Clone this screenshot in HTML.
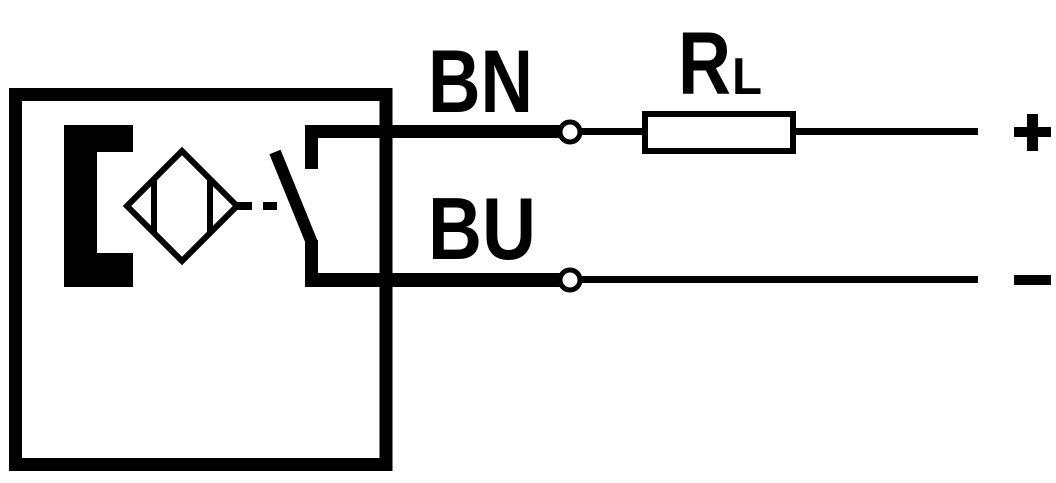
<!DOCTYPE html>
<html>
<head>
<meta charset="utf-8">
<style>
html,body{margin:0;padding:0;background:#fff;}
svg{display:block;}
text{font-family:"Liberation Sans",sans-serif;font-weight:bold;fill:#000;}
</style>
</head>
<body>
<svg width="1056" height="483" viewBox="0 0 1056 483" xmlns="http://www.w3.org/2000/svg">
  <rect x="0" y="0" width="1056" height="483" fill="#fff"/>
  <!-- outer box -->
  <rect x="15.5" y="94.5" width="370.5" height="370" fill="none" stroke="#000" stroke-width="13"/>
  <!-- bracket -->
  <polygon points="64,125 133,125 133,152 97,152 97,253 133,253 133,287 64,287" fill="#000"/>
  <!-- diamond -->
  <polygon points="127,206 182,151 237,206 182,261" fill="none" stroke="#000" stroke-width="6" stroke-linejoin="miter"/>
  <line x1="154" y1="178" x2="154" y2="234" stroke="#000" stroke-width="6"/>
  <line x1="210" y1="178" x2="210" y2="234" stroke="#000" stroke-width="6"/>
  <!-- dashes -->
  <rect x="237" y="202" width="15" height="8" fill="#000"/>
  <rect x="263" y="202" width="14" height="8" fill="#000"/>
  <!-- switch blade -->
  <line x1="275" y1="152" x2="312" y2="243" stroke="#000" stroke-width="12"/>
  <!-- upper contact -->
  <rect x="305" y="125" width="13" height="44" fill="#000"/>
  <rect x="305" y="125" width="260" height="13" fill="#000"/>
  <!-- lower contact -->
  <rect x="305" y="240" width="13" height="47" fill="#000"/>
  <rect x="305" y="273" width="260" height="14" fill="#000"/>
  <!-- thin wires -->
  <rect x="575" y="128" width="70" height="7" fill="#000"/>
  <rect x="793" y="128" width="185" height="7" fill="#000"/>
  <rect x="575" y="276" width="403" height="7" fill="#000"/>
  <!-- terminals -->
  <circle cx="570" cy="132" r="10" fill="#fff" stroke="#000" stroke-width="5"/>
  <circle cx="570" cy="280" r="10" fill="#fff" stroke="#000" stroke-width="5"/>
  <!-- resistor -->
  <rect x="645" y="114" width="148" height="37" fill="#fff" stroke="#000" stroke-width="6"/>
  <!-- plus / minus -->
  <rect x="1014" y="127" width="37" height="10" fill="#000"/>
  <rect x="1027" y="114" width="11" height="37" fill="#000"/>
  <rect x="1014" y="275" width="37" height="10" fill="#000"/>
  <!-- labels -->
  <text x="428" y="112" font-size="89" textLength="105" lengthAdjust="spacingAndGlyphs">BN</text>
  <text x="428" y="259" font-size="88" textLength="108" lengthAdjust="spacingAndGlyphs">BU</text>
  <text x="678" y="94" font-size="89" textLength="53" lengthAdjust="spacingAndGlyphs">R</text>
  <text x="732" y="94" font-size="52" textLength="30" lengthAdjust="spacingAndGlyphs">L</text>
</svg>
</body>
</html>
